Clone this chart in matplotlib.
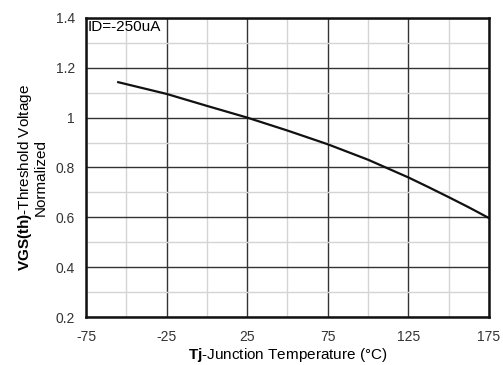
import numpy as np
import matplotlib.pyplot as plt
from matplotlib.ticker import MultipleLocator

plt.rcParams['font.family'] = ['Liberation Sans', 'DejaVu Sans']
plt.rcParams['mathtext.fontset'] = 'custom'
plt.rcParams['mathtext.rm'] = 'Liberation Sans'
plt.rcParams['mathtext.bf'] = 'Liberation Sans:bold'

# Tj (degC) vs normalized threshold voltage
temp = [-55, -25, 0, 25, 50, 75, 100, 125, 137.5, 150, 162.5, 175]
vth = [1.142, 1.095, 1.047, 1.0, 0.948, 0.893, 0.831, 0.760, 0.721, 0.681, 0.640, 0.597]

xticks = [-75, -25, 25, 75, 125, 175]
yticks = [0.2, 0.4, 0.6, 0.8, 1.0, 1.2, 1.4]
ylabels = ['0.2', '0.4', '0.6', '0.8', '1', '1.2', '1.4']

fig = plt.figure(figsize=(5.03, 3.65), dpi=100)
ax = fig.add_axes([0.171, 0.1315, 0.801, 0.8195])

ax.plot(temp, vth, color='#111111', linewidth=1.6, zorder=3)

ax.set_xlim(-75, 175)
ax.set_ylim(0.2, 1.4)
ax.xaxis.set_minor_locator(MultipleLocator(25))
ax.yaxis.set_minor_locator(MultipleLocator(0.1))
ax.set_xticks(xticks)
ax.set_xticklabels([str(t) for t in xticks])
ax.set_yticks(yticks)
ax.set_yticklabels(ylabels)

ax.grid(which='major', color='#333333', linewidth=1.0)
ax.grid(which='minor', color='#d4d4d4', linewidth=1.0)
ax.tick_params(which='both', length=0, labelsize=10, colors='#333333')
ax.tick_params(axis='x', pad=9)
ax.tick_params(axis='y', pad=8)
for s in ax.spines.values():
    s.set_linewidth(1.8)
    s.set_color('#111111')

ax.text(-74, 1.39, 'ID=-250uA', fontsize=11, va='top', ha='left')

ax.set_xlabel(r'$\bf{Tj}$-Junction Temperature (°C)', fontsize=11, labelpad=2)
ax.set_ylabel(r'$\bf{VGS(th)}$-Threshold Voltage' + '\nNormalized', fontsize=11,
              linespacing=0.95)
ax.yaxis.set_label_coords(-0.095, 0.465)

fig.savefig('out.png', dpi=100)
